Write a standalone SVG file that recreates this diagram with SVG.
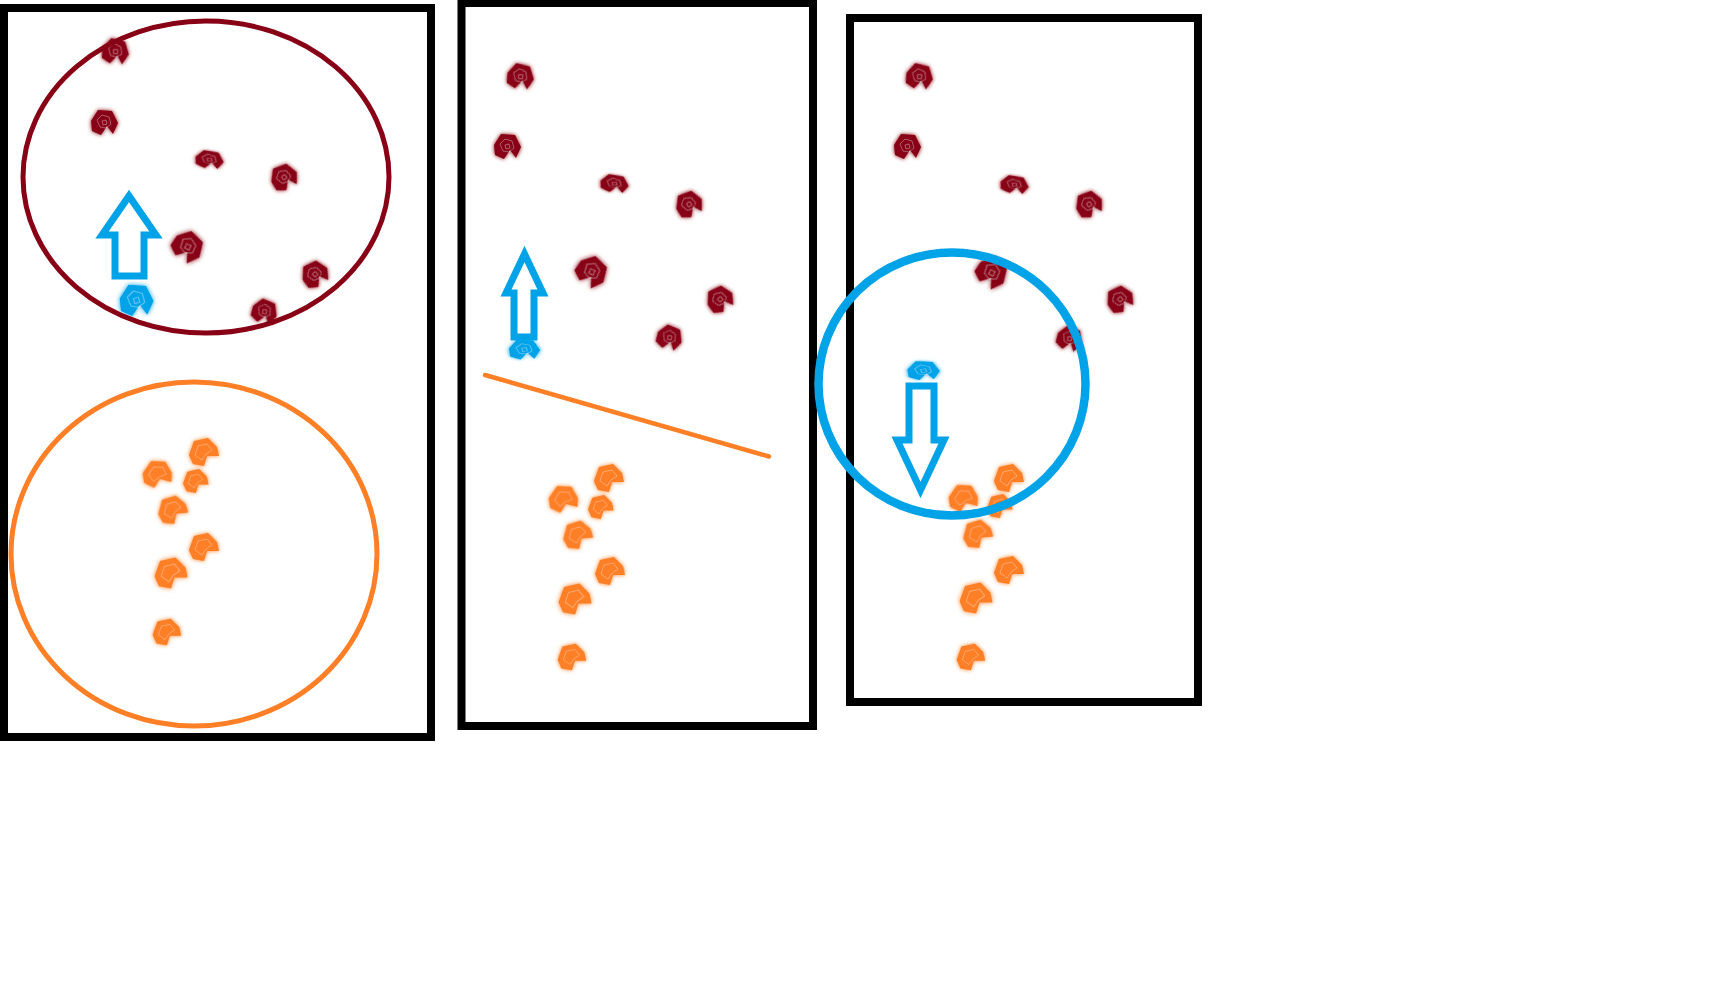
<svg xmlns="http://www.w3.org/2000/svg" xmlns:xlink="http://www.w3.org/1999/xlink" width="1723" height="987" viewBox="0 0 1723 987">
<style>
.frame{fill:none;stroke:#000;stroke-width:8}
.mar{fill:#880015}
.ora{fill:#FF7F27}
.blu{fill:#00A2E8}
.dot{filter:url(#smudge)}
.arrow{fill:#fff;stroke:#00A2E8;stroke-width:7;stroke-linejoin:miter;stroke-miterlimit:4}
</style>
<defs>
<filter id="smudge" x="-40%" y="-40%" width="180%" height="180%">
<feGaussianBlur in="SourceGraphic" stdDeviation="2.2" result="b"/>
<feGaussianBlur in="SourceGraphic" stdDeviation="0.6" result="s"/>
<feMerge><feMergeNode in="b"/><feMergeNode in="s"/></feMerge>
</filter>
<g id="mblob">
<path d="M -13,-2 L -6,-13 L 8,-12 L 14,0 L 9,11 L 3,3 L -3,12 L -12,8 Z"/>
<path d="M -7,-3 L -2,-8 L 5,-6 L 7,1 L 2,5 L -4,4 Z M -2,-2 L 2,-3 L 3,1 L -1,2 Z" fill="none" stroke="#fff" stroke-opacity="0.35" stroke-width="1"/>
</g>
<g id="oblob">
<path d="M -14,3 L -9,-11 L 5,-14 L 14,-5 L 16,4 L 4,4 L 1,14 L -10,12 Z"/>
<path d="M -8,3 L -5,-6 L 4,-8 L 9,-2 L 3,2 L -1,8 Z" fill="none" stroke="#fff" stroke-opacity="0.3" stroke-width="1"/>
</g>
</defs>
<rect width="1723" height="987" fill="#fff"/>

<g id="panel1">
<rect class="frame" x="4" y="8" width="427" height="729"/>
<g id="p1-red">
<use href="#mblob" class="mar dot" transform="translate(115,52) rotate(10)"/>
<use href="#mblob" class="mar dot" transform="translate(104,123)"/>
<use href="#mblob" class="mar dot" transform="translate(209,160) rotate(8) scale(1.05,0.7)"/>
<use href="#mblob" class="mar dot" transform="translate(284,178) rotate(-25)"/>
<use href="#mblob" class="mar dot" transform="translate(187,247) rotate(40) scale(1.15)"/>
<use href="#mblob" class="mar dot" transform="translate(315,275) rotate(-30)"/>
<use href="#mblob" class="mar dot" transform="translate(264,312) rotate(20) scale(0.95)"/>
</g>
<g id="p1-orange">
<use href="#oblob" class="ora dot" transform="translate(203,452)"/>
<use href="#oblob" class="ora dot" transform="translate(157,474) rotate(15)"/>
<use href="#oblob" class="ora dot" transform="translate(195,481) scale(0.85)"/>
<use href="#oblob" class="ora dot" transform="translate(172,510) rotate(-5)"/>
<use href="#oblob" class="ora dot" transform="translate(203,547)"/>
<use href="#oblob" class="ora dot" transform="translate(170,573) scale(1.1)"/>
<use href="#oblob" class="ora dot" transform="translate(166,632) scale(0.95)"/>
</g>
<use id="p1-blue" href="#mblob" class="blu dot" transform="translate(136,301) scale(1.25)"/>
<ellipse id="p1-red-cluster" cx="206" cy="177" rx="183" ry="156" fill="none" stroke="#880015" stroke-width="5"/>
<ellipse id="p1-orange-cluster" cx="194" cy="554" rx="183" ry="172" fill="none" stroke="#FF7F27" stroke-width="5"/>
<polygon id="p1-arrow" class="arrow" points="115,276 115,235 102,235 129,196 156,235 144,235 144,276"/>
</g>

<g id="panel2">
<rect class="frame" x="461.5" y="3" width="351.5" height="723"/>
<g id="p2-red">
<use href="#mblob" class="mar dot" transform="translate(520,77) rotate(10)"/>
<use href="#mblob" class="mar dot" transform="translate(507,147)"/>
<use href="#mblob" class="mar dot" transform="translate(614,184) rotate(8) scale(1.05,0.7)"/>
<use href="#mblob" class="mar dot" transform="translate(689,205) rotate(-25)"/>
<use href="#mblob" class="mar dot" transform="translate(591,272) rotate(40) scale(1.15)"/>
<use href="#mblob" class="mar dot" transform="translate(720,300) rotate(-30)"/>
<use href="#mblob" class="mar dot" transform="translate(669,338) rotate(20) scale(0.95)"/>
</g>
<g id="p2-orange">
<use href="#oblob" class="ora dot" transform="translate(608,478)"/>
<use href="#oblob" class="ora dot" transform="translate(563,499) rotate(15)"/>
<use href="#oblob" class="ora dot" transform="translate(600,507) scale(0.85)"/>
<use href="#oblob" class="ora dot" transform="translate(577,535) rotate(-5)"/>
<use href="#oblob" class="ora dot" transform="translate(609,571)"/>
<use href="#oblob" class="ora dot" transform="translate(574,599) scale(1.1)"/>
<use href="#oblob" class="ora dot" transform="translate(571,657) scale(0.95)"/>
</g>
<use id="p2-blue" href="#mblob" class="blu dot" transform="translate(524,350) scale(1.15,0.8)"/>
<line id="p2-boundary" x1="485" y1="375" x2="769" y2="456.5" stroke="#FF7F27" stroke-width="4.5" stroke-linecap="round"/>
<polygon id="p2-arrow" class="arrow" points="514,337 514,293 506,293 524.5,254 543,293 534,293 534,337"/>
</g>

<g id="panel3">
<rect class="frame" x="850" y="18" width="348" height="684"/>
<g id="p3-red">
<use href="#mblob" class="mar dot" transform="translate(919,77) rotate(10)"/>
<use href="#mblob" class="mar dot" transform="translate(907,147)"/>
<use href="#mblob" class="mar dot" transform="translate(1014,185) rotate(8) scale(1.05,0.7)"/>
<use href="#mblob" class="mar dot" transform="translate(1089,205) rotate(-25)"/>
<use href="#mblob" class="mar dot" transform="translate(991,273) rotate(40) scale(1.15)"/>
<use href="#mblob" class="mar dot" transform="translate(1120,300) rotate(-30)"/>
<use href="#mblob" class="mar dot" transform="translate(1069,339) rotate(20) scale(0.95)"/>
</g>
<g id="p3-orange">
<use href="#oblob" class="ora dot" transform="translate(1008,478)"/>
<use href="#oblob" class="ora dot" transform="translate(963,498) rotate(15)"/>
<use href="#oblob" class="ora dot" transform="translate(999,506) scale(0.85)"/>
<use href="#oblob" class="ora dot" transform="translate(977,534) rotate(-5)"/>
<use href="#oblob" class="ora dot" transform="translate(1008,570)"/>
<use href="#oblob" class="ora dot" transform="translate(975,598) scale(1.1)"/>
<use href="#oblob" class="ora dot" transform="translate(970,657) scale(0.95)"/>
</g>
<use id="p3-blue" href="#mblob" class="blu dot" transform="translate(923,371) scale(1.2,0.75)"/>
<ellipse id="p3-neighbourhood" cx="952" cy="384" rx="133.5" ry="131.5" fill="none" stroke="#00A2E8" stroke-width="8.5"/>
<polygon id="p3-arrow" class="arrow" points="909,386 909,440 897,440 920.5,490 944,440 934,440 934,386"/>
</g>
</svg>
